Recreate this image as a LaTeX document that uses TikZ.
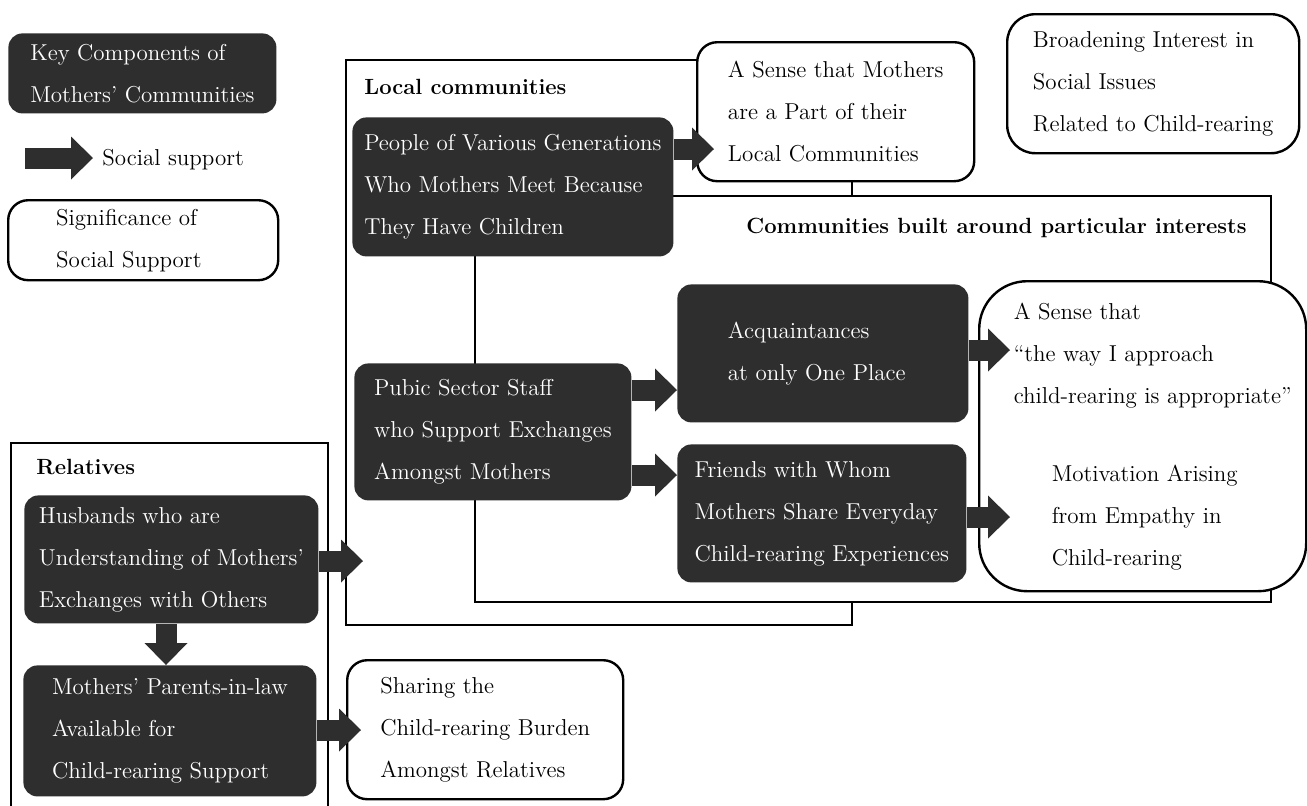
\documentclass[tikz,border=0pt]{standalone}
\usepackage{fontspec}
\usepackage{tikz}
\usetikzlibrary{arrows.meta}
\definecolor{boxgray}{HTML}{2E2E2E}

\begin{document}
\begin{tikzpicture}[x=0.5pt,y=-0.5pt,
  every node/.style={font=\fontsize{11.5}{21}\selectfont, inner sep=0pt, align=left},
  darkbox/.style={anchor=north west, fill=boxgray, text=white, rounded corners=7pt},
  bubble/.style={anchor=north west, draw, line width=1.2pt, fill=white, rounded corners=10pt},
  frame/.style={anchor=north west, draw, line width=1pt},
  heading/.style={font=\fontsize{11}{13}\selectfont\bfseries},
  fat/.style={boxgray, line width=10.5pt, -{Triangle[length=11pt,width=21.5pt,line width=0pt]}}]
  \useasboundingbox (0,0) rectangle (1307,805);

  \node[frame, minimum width=253pt, minimum height=282.5pt] (local) at (345,59) {};
  \node[frame, fill=white, minimum width=398pt, minimum height=203pt] (interest) at (474,195) {};
  \draw[line width=1pt] (11,810) -- (11,443) -- (328,443) -- (328,810);

  \node[heading, anchor=west] (localtitle) at (364,87) {Local communities};
  \node[heading, anchor=east] (interesttitle) at (1247,228) {Communities built around particular interests};
  \node[heading, anchor=west] (reltitle) at (36,467) {Relatives};

  \node[darkbox, minimum width=134pt, minimum height=40pt] (key) at (8,33) {Key Components of\\Mothers' Communities};
  \coordinate (lgs) at (25,158);
  \coordinate (lge) at (93,158);
  \node[anchor=west] (lgtext) at (102,160) {Social support};
  \node[bubble, minimum width=135pt, minimum height=40pt, text width=87pt] (sig) at (7,199) {Significance of\\Social Support};

  \node[bubble, minimum width=146pt, minimum height=69.5pt, rounded corners=14pt] (broad) at (1006,13) {Broadening Interest in\\Social Issues\\Related to Child-rearing};
  \node[bubble, minimum width=138.5pt, minimum height=69.5pt] (sense) at (696,41) {A Sense that Mothers\\are a Part of their\\Local Communities};
  \node[darkbox, minimum width=160.5pt, minimum height=69.5pt] (ppl) at (352,117) {People of Various Generations\\Who Mothers Meet Because\\They Have Children};
  \node[darkbox, minimum width=138.5pt, minimum height=68.5pt] (pub) at (354,363) {Pubic Sector Staff\\who Support Exchanges\\Amongst Mothers};
  \node[darkbox, minimum width=145.5pt, minimum height=69pt, text width=95pt] (acq) at (677,284) {Acquaintances\\at only One Place};
  \node[darkbox, minimum width=144.5pt, minimum height=69pt] (frnd) at (677,444) {Friends with Whom\\Mothers Share Everyday\\Child-rearing Experiences};
  \node[bubble, minimum width=163.5pt, minimum height=155pt, rounded corners=24pt] (big) at (978,280)
    {\hspace*{10pt}A Sense that\\\hspace*{10pt}``the way I approach\\\hspace*{10pt}child-rearing is appropriate''\\[18pt]
     \hspace*{29pt}Motivation Arising\\\hspace*{29pt}from Empathy in\\\hspace*{29pt}Child-rearing};

  \node[darkbox, minimum width=147pt, minimum height=64pt] (hus) at (24,495) {Husbands who are\\Understanding of Mothers'\\Exchanges with Others};
  \node[darkbox, minimum width=146.5pt, minimum height=65.5pt] (par) at (23,665) {Mothers' Parents-in-law\\Available for\\Child-rearing Support};
  \node[bubble, minimum width=138pt, minimum height=69.5pt] (share) at (346,659) {Sharing the\\Child-rearing Burden\\Amongst Relatives};

  \draw[fat] (lgs) -- (lge);
  \draw[fat, shorten >=-9pt] (ppl.east |- 0,149) -- (sense.west |- 0,149);
  \draw[fat] (pub.east |- 0,390) -- (acq.west |- 0,390);
  \draw[fat] (pub.east |- 0,475) -- (frnd.west |- 0,475);
  \draw[fat, shorten >=-16pt] (acq.east |- 0,350) -- (big.west |- 0,350);
  \draw[fat, shorten >=-16pt] (frnd.east |- 0,517) -- (big.west |- 0,517);
  \draw[fat, shorten >=-9pt] (hus.east |- 0,561) -- (local.west |- 0,561);
  \draw[fat] (hus.south -| 166,0) -- (par.north -| 166,0);
  \draw[fat, shorten >=-7.5pt] (par.east |- 0,730) -- (share.west |- 0,730);
\end{tikzpicture}
\end{document}
